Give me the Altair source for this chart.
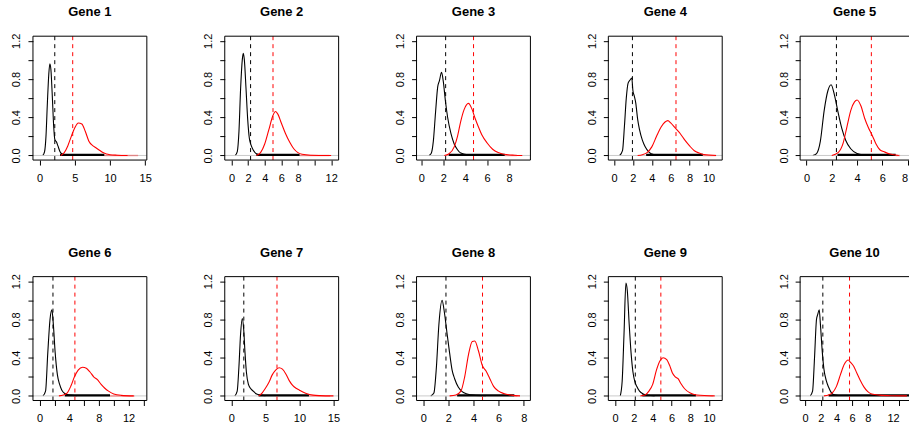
import altair as alt
import pandas as pd

FONT = "Liberation Sans"

titles = ["Gene 1", "Gene 2", "Gene 3", "Gene 4", "Gene 5",
          "Gene 6", "Gene 7", "Gene 8", "Gene 9", "Gene 10"]

# ---- black density curves (x, density) ----
black_x1 = [0.45, 0.7, 0.9, 1.1, 1.3, 1.45, 1.6, 1.8, 2.0, 2.15, 2.4, 2.6, 2.9, 3.3, 4.0]
black_y1 = [0, 0.04, 0.2, 0.55, 0.85, 0.96, 0.9, 0.62, 0.3, 0.17, 0.14, 0.1, 0.04, 0.012, 0.004]
black_x2 = [0.45, 0.7, 0.9, 1.1, 1.3, 1.42, 1.55, 1.75, 1.95, 2.15, 2.35, 2.6, 2.9, 3.3, 4.0]
black_y2 = [0, 0.04, 0.25, 0.7, 1.0, 1.07, 1.0, 0.7, 0.38, 0.18, 0.11, 0.06, 0.025, 0.01, 0.003]
black_x3 = [0.7, 0.9, 1.1, 1.3, 1.5, 1.65, 1.85, 2.0, 2.2, 2.4, 2.7, 3.0, 3.3, 3.6, 4.2, 5.0]
black_y3 = [0, 0.02, 0.15, 0.45, 0.72, 0.78, 0.87, 0.78, 0.57, 0.4, 0.23, 0.12, 0.06, 0.025, 0.008, 0.003]
black_x4 = [0.6, 0.9, 1.1, 1.3, 1.5, 1.7, 1.88, 2.0, 2.15, 2.3, 2.5, 2.7, 3.0, 3.3, 3.7, 4.2, 5.0]
black_y4 = [0, 0.05, 0.3, 0.6, 0.76, 0.79, 0.81, 0.68, 0.62, 0.55, 0.38, 0.27, 0.16, 0.09, 0.035, 0.01, 0.003]
black_x5 = [0.5, 0.8, 1.1, 1.4, 1.7, 1.95, 2.2, 2.5, 2.8, 3.1, 3.5, 4.0, 4.5]
black_y5 = [0, 0.02, 0.15, 0.47, 0.68, 0.74, 0.64, 0.45, 0.28, 0.16, 0.07, 0.02, 0.005]
black_x6 = [0.45, 0.8, 1.1, 1.4, 1.65, 1.85, 2.1, 2.4, 2.7, 3.0, 3.4, 4.0, 5.0]
black_y6 = [0, 0.05, 0.45, 0.8, 0.9, 0.75, 0.45, 0.22, 0.12, 0.06, 0.025, 0.008, 0.002]
black_x7 = [0.5, 0.85, 1.1, 1.35, 1.6, 1.8, 2.0, 2.2, 2.5, 2.8, 3.2, 3.7, 4.3, 5.0]
black_y7 = [0, 0.05, 0.3, 0.65, 0.81, 0.7, 0.45, 0.25, 0.12, 0.08, 0.05, 0.02, 0.008, 0.002]
black_x8 = [0.6, 0.85, 1.05, 1.25, 1.5, 1.7, 1.9, 2.1, 2.3, 2.5, 2.8, 3.1, 3.5, 4.0, 5.0]
black_y8 = [0, 0.03, 0.3, 0.75, 1.0, 0.86, 0.65, 0.45, 0.27, 0.18, 0.09, 0.045, 0.02, 0.008, 0.002]
black_x9 = [0.55, 0.75, 0.95, 1.15, 1.3, 1.5, 1.7, 1.9, 2.1, 2.3, 2.6, 3.0, 3.5, 4.2]
black_y9 = [0, 0.15, 0.65, 1.18, 1.1, 0.75, 0.45, 0.25, 0.15, 0.1, 0.05, 0.02, 0.006, 0]
black_x10 = [0.65, 0.95, 1.2, 1.45, 1.6, 1.8, 1.95, 2.2, 2.4, 2.7, 3.0, 3.3, 3.6, 4.2]
black_y10 = [0, 0.05, 0.4, 0.8, 0.85, 0.9, 0.75, 0.45, 0.28, 0.16, 0.09, 0.04, 0.015, 0.004]

# ---- red density curves (x, density) ----
red_x1 = [3.0, 3.5, 4.0, 4.5, 5.0, 5.5, 6.0, 6.5, 7.0, 7.5, 8.0, 8.5, 9.0, 9.5, 10.0, 11.0, 12.5]
red_y1 = [0, 0.03, 0.1, 0.2, 0.29, 0.34, 0.33, 0.25, 0.15, 0.105, 0.08, 0.055, 0.03, 0.015, 0.008, 0.003, 0]
red_x2 = [3.0, 3.5, 4.0, 4.5, 5.0, 5.3, 5.6, 6.0, 6.5, 7.0, 7.5, 8.0, 8.5, 9.5, 12.0]
red_y2 = [0, 0.03, 0.12, 0.27, 0.42, 0.46, 0.43, 0.34, 0.23, 0.14, 0.07, 0.03, 0.012, 0.003, 0]
red_x3 = [2.1, 2.5, 3.0, 3.3, 3.6, 3.9, 4.3, 4.6, 4.9, 5.2, 5.5, 6.0, 6.5, 7.0, 7.5, 8.5, 9.2]
red_y3 = [0, 0.015, 0.09, 0.2, 0.36, 0.48, 0.545, 0.49, 0.39, 0.3, 0.22, 0.13, 0.065, 0.03, 0.012, 0.003, 0]
red_x4 = [2.5, 3.0, 3.5, 4.0, 4.5, 5.0, 5.4, 5.7, 6.0, 6.5, 7.0, 7.5, 8.0, 8.5, 9.0, 9.5, 10.8]
red_y4 = [0, 0.008, 0.03, 0.09, 0.2, 0.3, 0.35, 0.365, 0.34, 0.285, 0.23, 0.16, 0.1, 0.05, 0.025, 0.01, 0]
red_x5 = [2.0, 2.5, 2.9, 3.2, 3.5, 3.8, 4.0, 4.3, 4.6, 4.9, 5.2, 5.5, 5.8, 6.2, 6.6, 7.3]
red_y5 = [0, 0.03, 0.13, 0.3, 0.47, 0.56, 0.58, 0.52, 0.39, 0.29, 0.21, 0.12, 0.06, 0.035, 0.015, 0]
red_x6 = [2.6, 3.2, 3.7, 4.2, 4.7, 5.2, 5.8, 6.3, 6.8, 7.3, 7.8, 8.3, 8.8, 9.3, 10.0, 11.0, 12.7]
red_y6 = [0, 0.01, 0.03, 0.1, 0.2, 0.27, 0.3, 0.29, 0.25, 0.2, 0.17, 0.12, 0.08, 0.05, 0.02, 0.006, 0]
red_x7 = [4.0, 4.5, 5.0, 5.5, 6.0, 6.5, 7.0, 7.5, 8.0, 8.5, 9.0, 9.5, 10.0, 10.5, 11.0, 12.0, 13.0, 15.0]
red_y7 = [0, 0.03, 0.08, 0.14, 0.22, 0.27, 0.295, 0.28, 0.23, 0.16, 0.11, 0.08, 0.06, 0.04, 0.025, 0.008, 0.003, 0]
red_x8 = [2.1, 2.6, 3.0, 3.3, 3.6, 3.9, 4.1, 4.4, 4.7, 5.0, 5.3, 5.6, 6.0, 6.4, 7.0, 7.7]
red_y8 = [0, 0.01, 0.05, 0.2, 0.43, 0.57, 0.575, 0.47, 0.32, 0.26, 0.18, 0.1, 0.05, 0.025, 0.008, 0]
red_x9 = [2.7, 3.2, 3.6, 4.0, 4.4, 4.8, 5.1, 5.5, 5.8, 6.1, 6.4, 6.7, 7.0, 7.4, 8.0, 8.7, 10.6]
red_y9 = [0, 0.01, 0.05, 0.12, 0.27, 0.37, 0.4, 0.38, 0.32, 0.24, 0.2, 0.18, 0.13, 0.075, 0.03, 0.01, 0]
red_x10 = [2.4, 3.0, 3.5, 4.0, 4.5, 5.0, 5.5, 5.8, 6.2, 6.6, 7.0, 7.5, 8.0, 8.5, 9.5, 11.0, 13.0]
red_y10 = [0, 0.01, 0.035, 0.1, 0.22, 0.33, 0.375, 0.35, 0.31, 0.24, 0.17, 0.095, 0.045, 0.02, 0.008, 0.002, 0]

# ---- dashed reference lines ----
black_vline = [2.15, 2.3, 2.22, 1.95, 2.37, 1.8, 1.82, 1.81, 2.15, 2.26]
red_vline = [4.7, 5.0, 4.76, 6.56, 5.13, 4.76, 6.7, 4.72, 4.87, 5.67]

# ---- dense near-zero band and faint tail ----
band_start = [2.9, 3.0, 2.5, 3.4, 2.45, 3.4, 4.0, 2.7, 2.9, 3.0]
band_end = [9.2, 8.2, 7.6, 9.4, 7.05, 9.5, 11.4, 7.25, 8.6, 13.3]
tail_end = [14.0, 11.8, 8.7, 10.8, 7.4, 12.8, 14.5, 7.5, 10.4, 13.3]

# ---- x axis ranges and ticks ----
x_lo = [-0.95, -0.81, -0.43, -0.6, -0.5, -0.9, -0.98, -0.53, -0.72, -0.64]
x_hi = [15.24, 12.9, 9.94, 11.45, 8.5, 14.47, 15.76, 8.53, 11.4, 13.9]
x_ticks = [[0, 5, 10, 15], [0, 2, 4, 6, 8, 10, 12], [0, 2, 4, 6, 8], [0, 2, 4, 6, 8, 10],
           [0, 2, 4, 6, 8], [0, 2, 4, 6, 8, 10, 12, 14], [0, 5, 10, 15], [0, 2, 4, 6, 8],
           [0, 2, 4, 6, 8, 10], [0, 2, 4, 6, 8, 10, 12]]
x_labeled = [[0, 5, 10, 15], [0, 2, 4, 6, 8, 12], [0, 2, 4, 6, 8], [0, 2, 4, 6, 8, 10],
             [0, 2, 4, 6, 8], [0, 4, 8, 12], [0, 5, 10, 15], [0, 2, 4, 6, 8],
             [0, 2, 4, 6, 8, 10], [0, 2, 4, 6, 8, 12]]
y_ticks = [0, 0.2, 0.4, 0.6, 0.8, 1.0, 1.2]
Y_DOMAIN = [-0.048, 1.248]

BLACK_X = [black_x1, black_x2, black_x3, black_x4, black_x5, black_x6, black_x7, black_x8, black_x9, black_x10]
BLACK_Y = [black_y1, black_y2, black_y3, black_y4, black_y5, black_y6, black_y7, black_y8, black_y9, black_y10]
RED_X = [red_x1, red_x2, red_x3, red_x4, red_x5, red_x6, red_x7, red_x8, red_x9, red_x10]
RED_Y = [red_y1, red_y2, red_y3, red_y4, red_y5, red_y6, red_y7, red_y8, red_y9, red_y10]

BOX_W = 114
BOX_H = 124
CLIP_W = 109


def panel(i):
    clipped = (i % 5 == 4)
    w = CLIP_W if clipped else BOX_W
    lo, hi = x_lo[i], x_hi[i]
    if clipped:
        hi = lo + (hi - lo) * CLIP_W / BOX_W
    xs = alt.Scale(domain=[lo, hi], nice=False, zero=False)
    ys = alt.Scale(domain=Y_DOMAIN, nice=False, zero=False)

    shown = "[" + ",".join(str(v) for v in x_labeled[i]) + "]"
    xaxis_kw = dict(
        values=x_ticks[i], title=None, format="d",
        labelExpr=f"indexof({shown}, datum.value) >= 0 ? datum.label : ''",
        labelAngle=0, tickSize=5, labelPadding=7,
    )
    if clipped:
        last = x_ticks[i][-1]
        xaxis_kw["labelAlign"] = {"condition": {"test": f"datum.value == {last}", "value": "right"},
                                  "value": "center"}
    xaxis = alt.Axis(**xaxis_kw)
    yaxis = alt.Axis(values=y_ticks, title=None, labelAngle=270, tickSize=5, labelPadding=6,
                     labelExpr="round(datum.value * 10) % 4 == 0 ? format(datum.value, '.1f') : ''")

    def X(field="x:Q"):
        return alt.X(field, scale=xs, axis=xaxis)

    def Y(field="y:Q"):
        return alt.Y(field, scale=ys, axis=yaxis)

    one = pd.DataFrame({"a": [0]})
    zero = alt.Chart(pd.DataFrame({"y": [0.0]})).mark_rule(color="#BEBEBE", strokeWidth=0.8).encode(
        y=Y(), x=alt.value(0), x2=alt.value(w))
    tail = alt.Chart(pd.DataFrame({"x": [band_end[i]], "x2": [tail_end[i]], "y": [0.0]})).mark_rule(
        color="#FF0000", strokeWidth=1.5, opacity=0.35, clip=True).encode(
        x=X(), x2="x2:Q", y=Y())
    band = alt.Chart(pd.DataFrame({"x": [band_start[i]], "x2": [band_end[i]], "y": [0.006]})).mark_rule(
        color="black", strokeWidth=2.2, clip=True).encode(
        x=X(), x2="x2:Q", y=Y())
    black = alt.Chart(pd.DataFrame({"x": BLACK_X[i], "y": BLACK_Y[i]})).mark_line(
        color="black", strokeWidth=1.1, interpolate="monotone", clip=True).encode(x=X(), y=Y())
    red = alt.Chart(pd.DataFrame({"x": RED_X[i], "y": RED_Y[i]})).mark_line(
        color="#FF0000", strokeWidth=1.1, interpolate="monotone", clip=True).encode(x=X(), y=Y())
    bv = alt.Chart(pd.DataFrame({"x": [black_vline[i]]})).mark_rule(
        color="black", strokeDash=[4, 4], strokeWidth=1).encode(x=X())
    rv = alt.Chart(pd.DataFrame({"x": [red_vline[i]]})).mark_rule(
        color="#FF0000", strokeDash=[4, 4], strokeWidth=1).encode(x=X())

    box = [
        alt.Chart(one).mark_rule(color="black", strokeWidth=1).encode(
            x=alt.value(0), x2=alt.value(w), y=alt.value(0)),
        alt.Chart(one).mark_rule(color="black", strokeWidth=1).encode(
            x=alt.value(0), x2=alt.value(w), y=alt.value(BOX_H)),
        alt.Chart(one).mark_rule(color="black", strokeWidth=1).encode(
            x=alt.value(0), y=alt.value(0), y2=alt.value(BOX_H)),
    ]
    if not clipped:
        box.append(alt.Chart(one).mark_rule(color="black", strokeWidth=1).encode(
            x=alt.value(w), y=alt.value(0), y2=alt.value(BOX_H)))

    return alt.layer(black, zero, tail, band, red, bv, rv, *box).properties(
        width=w, height=BOX_H,
        title=alt.TitleParams(text=titles[i], font=FONT, fontSize=13, fontWeight="bold",
                              color="black", anchor="middle", frame="group",
                              baseline="alphabetic", offset=4),
    )


chart = alt.concat(
    *[panel(i) for i in range(10)],
    columns=5,
    spacing={"row": 116.7, "column": 78},
    bounds="flush",
    align="each",
).properties(
    padding={"left": 11, "top": 5, "right": 0, "bottom": 0},
    background="white",
).configure_view(
    strokeWidth=0,
).configure_axis(
    labelFont=FONT, labelFontSize=11, labelColor="black",
    tickColor="black", tickWidth=1, domain=False, grid=False,
)

chart.save("out.html", embed_options={"renderer": "svg", "actions": False})
